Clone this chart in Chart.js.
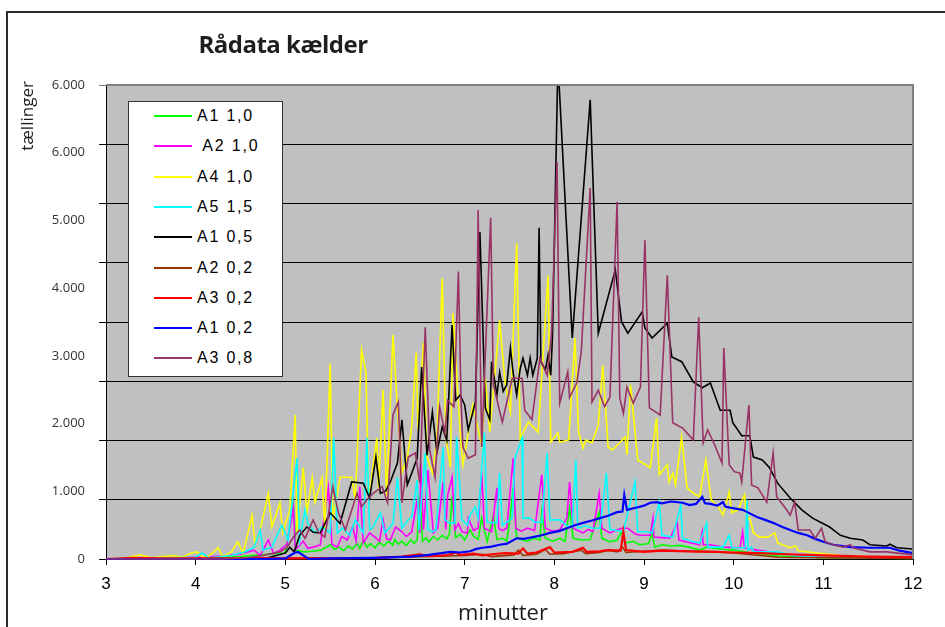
<!DOCTYPE html>
<html>
<head>
<meta charset="utf-8">
<script src="https://cdn.jsdelivr.net/npm/chart.js@4"></script>
<style>
  html, body { margin: 0; padding: 0; background: #fff; }
  #wrap { position: relative; width: 945px; height: 627px; overflow: hidden; }
  #frame { position: absolute; left: 6px; top: 11px; width: 1000px; height: 700px; border: 2px solid #2b2b2b; }
  canvas { position: absolute; left: 0; top: 0; }
  #legend { position: absolute; left: 128px; top: 101px; width: 155px; height: 276px; box-sizing: border-box; background: #fff; border: 1px solid #333; }
  .item { position: absolute; left: 0; height: 20px; width: 150px; }
  .item .line { position: absolute; left: 25px; width: 38px; height: 2px; top: 9px; }
  .item .txt { position: absolute; left: 68px; top: 0; font: 16px "Liberation Sans", Arial, sans-serif; letter-spacing: 1.8px; line-height: 20px; white-space: pre; color: #000; }
</style>
</head>
<body>
<div id="wrap">
  <div id="frame"></div>
  <canvas id="chart" width="945" height="627"></canvas>
  <div id="legend"></div>
</div>
<script>
const chartTitle = "Rådata kælder";
const xTitle = "minutter";
const yTitle = "tællinger";

// y labels as printed next to the axis
const yTickLabels = ["0", "1.000", "2.000", "3.000", "4.000", "5.000", "6.000", "6.000"];

const seriesNames = ["A1 1,0", " A2 1,0", "A4 1,0", "A5 1,5", "A1 0,5", "A2 0,2", "A3 0,2", "A1 0,2", "A3 0,8"];
const seriesColors = ["#00ff00", "#ff00ff", "#ffff00", "#00ffff", "#000000", "#993300", "#ff0000", "#0000ff", "#993366"];
const seriesWidths = [1.6, 1.6, 1.6, 1.6, 1.6, 1.6, 2.2, 2.2, 1.6];

// [minutter, tællinger]
const a1_10 = [[3.0,0],[4.0,10],[4.5,40],[4.8,80],[5.0,100],[5.09,900],[5.12,150],[5.2,120],[5.3,130],[5.4,150],[5.5,240],[5.55,160],[5.6,200],[5.65,140],[5.7,220],[5.75,170],[5.8,260],[5.83,180],[5.87,320],[5.91,200],[5.95,260],[6.0,190],[6.05,280],[6.1,220],[6.15,300],[6.2,230],[6.22,330],[6.26,250],[6.3,300],[6.35,230],[6.4,320],[6.44,260],[6.47,330],[6.5,1100],[6.53,300],[6.57,360],[6.6,290],[6.65,380],[6.7,320],[6.75,400],[6.8,340],[6.83,420],[6.86,1050],[6.9,360],[6.95,420],[7.0,320],[7.06,490],[7.1,380],[7.15,330],[7.19,690],[7.25,290],[7.32,740],[7.36,330],[7.42,350],[7.47,300],[7.51,740],[7.54,1200],[7.58,350],[7.64,320],[7.7,300],[7.77,350],[7.84,320],[7.86,790],[7.9,350],[7.98,300],[8.06,350],[8.12,300],[8.17,860],[8.21,350],[8.3,320],[8.4,330],[8.5,790],[8.53,350],[8.62,290],[8.7,320],[8.75,460],[8.79,270],[8.88,300],[8.95,240],[9.05,260],[9.09,440],[9.12,200],[9.2,240],[9.3,220],[9.4,230],[9.5,200],[9.62,150],[9.7,200],[9.8,180],[9.9,160],[10.0,150],[10.2,100],[10.5,50],[11.0,20],[12.0,10]];
const a2_10 = [[3.0,0],[3.5,10],[4.0,30],[4.3,50],[4.5,80],[4.65,150],[4.72,60],[4.81,320],[4.87,90],[4.94,150],[5.02,250],[5.09,860],[5.11,150],[5.2,300],[5.25,180],[5.31,200],[5.39,240],[5.48,1200],[5.52,250],[5.58,200],[5.63,380],[5.69,320],[5.75,540],[5.79,300],[5.83,1220],[5.87,270],[5.94,440],[6.0,370],[6.05,300],[6.09,660],[6.13,340],[6.17,320],[6.23,540],[6.3,460],[6.35,380],[6.41,460],[6.47,1000],[6.5,440],[6.51,1620],[6.54,490],[6.59,1500],[6.65,440],[6.7,520],[6.76,1300],[6.79,500],[6.81,1080],[6.86,1380],[6.89,490],[6.93,600],[6.97,460],[7.03,440],[7.04,690],[7.1,480],[7.15,520],[7.19,1450],[7.22,520],[7.3,460],[7.36,1200],[7.38,520],[7.42,480],[7.47,520],[7.54,1700],[7.57,520],[7.63,470],[7.7,520],[7.78,480],[7.86,1420],[7.9,520],[7.98,470],[8.06,490],[8.14,690],[8.17,1300],[8.21,520],[8.25,490],[8.32,440],[8.38,500],[8.43,460],[8.5,1110],[8.53,520],[8.62,440],[8.68,480],[8.75,520],[8.82,520],[8.9,420],[8.96,400],[9.07,400],[9.1,690],[9.11,370],[9.2,360],[9.29,350],[9.37,610],[9.39,320],[9.5,280],[9.62,240],[9.65,460],[9.66,240],[9.74,240],[9.88,200],[10.07,190],[10.1,460],[10.12,190],[10.26,150],[10.6,80],[11.0,30],[12.0,20]];
const a4_10 = [[3.0,0],[3.2,10],[3.38,70],[3.5,20],[3.75,60],[3.85,30],[3.95,100],[4.01,120],[4.08,30],[4.15,50],[4.25,190],[4.3,40],[4.4,120],[4.47,290],[4.53,100],[4.63,740],[4.66,270],[4.72,490],[4.81,1110],[4.85,540],[4.94,950],[4.97,440],[5.05,830],[5.11,2430],[5.13,440],[5.2,1540],[5.24,780],[5.3,1370],[5.33,960],[5.41,1370],[5.44,490],[5.5,3300],[5.53,660],[5.61,1380],[5.69,1380],[5.74,1380],[5.78,1000],[5.85,3530],[5.9,3140],[5.93,1000],[6.02,2040],[6.04,1160],[6.09,2850],[6.13,1050],[6.2,3780],[6.25,2570],[6.3,1450],[6.36,1720],[6.41,2230],[6.46,3480],[6.48,2180],[6.54,3650],[6.58,1720],[6.64,1450],[6.69,2010],[6.75,4740],[6.79,2060],[6.84,1550],[6.87,4150],[6.95,2130],[6.98,1590],[7.03,2040],[7.09,2600],[7.19,1920],[7.23,3050],[7.28,2140],[7.39,4030],[7.45,2990],[7.51,2480],[7.58,5330],[7.62,2040],[7.71,2310],[7.82,2140],[7.93,4790],[7.96,1970],[8.04,2130],[8.06,1970],[8.16,2010],[8.23,3730],[8.27,2140],[8.32,1870],[8.35,2010],[8.42,1960],[8.49,2260],[8.54,3270],[8.6,1890],[8.65,1840],[8.79,2060],[8.81,1760],[8.85,2940],[8.93,1670],[9.07,1540],[9.14,2380],[9.17,1420],[9.26,1590],[9.28,1300],[9.32,1450],[9.35,1250],[9.42,2060],[9.48,1200],[9.55,1110],[9.62,1050],[9.69,1670],[9.75,1000],[9.83,880],[9.88,740],[9.95,1130],[9.98,780],[10.05,830],[10.12,1080],[10.15,660],[10.18,690],[10.22,440],[10.29,370],[10.38,370],[10.46,440],[10.49,270],[10.63,190],[10.69,220],[10.72,140],[10.93,100],[11.2,60],[11.5,40],[12.0,30]];
const a5_15 = [[3.0,0],[3.3,20],[3.5,10],[4.0,30],[4.07,100],[4.15,20],[4.29,40],[4.4,60],[4.55,120],[4.65,200],[4.72,490],[4.75,150],[4.85,200],[4.96,570],[5.03,320],[5.13,1700],[5.16,320],[5.22,830],[5.25,610],[5.33,440],[5.41,540],[5.5,440],[5.54,2040],[5.58,440],[5.64,520],[5.72,400],[5.78,660],[5.87,440],[5.91,2040],[5.94,500],[5.97,520],[6.06,780],[6.11,440],[6.2,600],[6.25,1380],[6.3,520],[6.37,660],[6.41,710],[6.47,1330],[6.49,490],[6.56,1790],[6.59,500],[6.64,460],[6.68,490],[6.76,1890],[6.78,660],[6.83,610],[6.89,610],[6.91,2060],[6.97,660],[7.03,570],[7.06,740],[7.12,880],[7.15,690],[7.22,2140],[7.25,620],[7.36,610],[7.39,1450],[7.42,570],[7.53,690],[7.56,1700],[7.64,2040],[7.65,690],[7.73,690],[7.78,620],[7.86,620],[7.92,1790],[7.95,660],[8.06,660],[8.14,560],[8.2,540],[8.24,1670],[8.26,520],[8.34,560],[8.43,520],[8.51,520],[8.58,1450],[8.62,500],[8.77,460],[8.9,1300],[8.93,460],[9.03,460],[9.09,440],[9.17,960],[9.2,400],[9.32,370],[9.41,910],[9.43,350],[9.55,290],[9.62,270],[9.7,610],[9.71,200],[9.88,200],[9.95,400],[9.98,190],[10.13,190],[10.15,1000],[10.16,150],[10.2,200],[10.22,120],[10.48,120],[10.7,50],[11.0,30],[12.0,20]];
const a1_05 = [[3.0,0],[4.5,0],[4.8,20],[4.9,60],[5.0,100],[5.05,200],[5.1,120],[5.16,400],[5.24,540],[5.31,450],[5.39,440],[5.5,780],[5.61,600],[5.74,1300],[5.87,1280],[5.94,1030],[6.01,1720],[6.06,1110],[6.12,1150],[6.17,1300],[6.25,1620],[6.3,2350],[6.36,1250],[6.41,1450],[6.47,1700],[6.52,3240],[6.58,1750],[6.64,2480],[6.69,1800],[6.75,2230],[6.8,2000],[6.86,3950],[6.9,2680],[6.95,2770],[7.0,2600],[7.04,2180],[7.12,2650],[7.17,5520],[7.23,2550],[7.28,2350],[7.3,3330],[7.36,2770],[7.39,3150],[7.43,2830],[7.47,2940],[7.51,3560],[7.54,3150],[7.58,2770],[7.62,3220],[7.65,3390],[7.7,3100],[7.73,3390],[7.76,3100],[7.81,3390],[7.83,5590],[7.85,3330],[7.9,3190],[7.93,3440],[7.96,3100],[7.98,3780],[8.04,8400],[8.2,3730],[8.4,7750],[8.49,3810],[8.68,4880],[8.75,4000],[8.82,3810],[8.98,4170],[9.01,3900],[9.09,3730],[9.26,3980],[9.31,3410],[9.42,3330],[9.55,2990],[9.65,2890],[9.74,2970],[9.85,2510],[9.96,2510],[9.99,2300],[10.09,2080],[10.18,2080],[10.22,1720],[10.32,1670],[10.4,1540],[10.49,1280],[10.63,1030],[10.76,830],[10.88,690],[11.07,540],[11.19,400],[11.3,350],[11.44,320],[11.52,240],[11.71,220],[11.74,250],[11.82,190],[12.0,170]];
const a2_02 = [[3.0,0],[5.0,10],[6.0,20],[6.5,40],[6.8,50],[7.0,60],[7.2,80],[7.3,40],[7.55,70],[7.6,150],[7.65,60],[7.8,80],[7.9,160],[7.95,80],[8.1,90],[8.3,150],[8.35,90],[8.5,110],[8.6,150],[8.7,120],[8.76,200],[8.8,110],[9.0,130],[9.2,150],[9.5,130],[9.8,120],[10.0,100],[10.3,60],[10.5,30],[11.0,20],[12.0,10]];
const a3_02 = [[3.0,0],[3.3,20],[3.6,10],[4.0,10],[5.0,10],[6.0,20],[6.3,40],[6.5,80],[6.6,50],[6.8,60],[6.9,110],[6.95,70],[7.1,90],[7.2,60],[7.3,80],[7.45,100],[7.6,90],[7.65,180],[7.7,90],[7.8,110],[7.95,200],[8.0,110],[8.2,120],[8.32,190],[8.36,120],[8.5,130],[8.6,150],[8.74,140],[8.77,460],[8.8,150],[9.0,120],[9.2,140],[9.5,130],[9.8,120],[10.0,110],[10.3,100],[10.6,80],[11.0,60],[11.5,40],[12.0,30]];
const a1_02 = [[3.0,0],[4.8,0],[5.0,10],[5.1,100],[5.14,120],[5.2,60],[5.26,0],[5.5,10],[6.0,20],[6.4,40],[6.6,70],[6.84,120],[6.95,110],[7.06,130],[7.13,170],[7.2,190],[7.3,210],[7.39,240],[7.47,260],[7.58,350],[7.66,340],[7.76,370],[7.86,400],[7.95,440],[8.05,470],[8.14,520],[8.23,570],[8.32,610],[8.42,650],[8.51,690],[8.6,730],[8.7,790],[8.76,800],[8.78,1080],[8.81,830],[8.92,870],[9.0,900],[9.07,950],[9.14,960],[9.2,940],[9.3,970],[9.43,950],[9.51,910],[9.58,930],[9.65,1050],[9.68,940],[9.74,930],[9.82,900],[9.88,960],[9.91,880],[9.99,860],[10.1,830],[10.18,770],[10.26,710],[10.35,660],[10.44,610],[10.53,550],[10.63,490],[10.72,440],[10.82,400],[10.91,340],[11.0,290],[11.11,240],[11.3,200],[11.52,190],[11.74,190],[11.85,140],[12.0,100]];
const a3_08 = [[3.0,0],[4.3,0],[4.57,20],[4.75,60],[4.94,120],[5.02,200],[5.09,370],[5.16,490],[5.22,350],[5.31,660],[5.37,450],[5.44,370],[5.53,1220],[5.59,790],[5.67,490],[5.8,1110],[5.85,880],[5.91,1000],[5.98,1110],[6.08,1220],[6.14,950],[6.2,2430],[6.26,2650],[6.3,950],[6.37,1720],[6.45,1790],[6.5,1280],[6.56,3910],[6.61,1840],[6.67,1380],[6.72,2570],[6.78,2130],[6.81,2680],[6.88,2570],[6.93,4850],[6.96,2680],[6.98,1890],[7.04,1700],[7.12,1760],[7.15,5890],[7.19,1890],[7.29,5760],[7.32,2940],[7.42,2310],[7.53,3050],[7.64,3050],[7.67,2510],[7.75,2350],[7.84,3390],[7.92,3100],[7.97,3830],[8.03,6700],[8.06,2630],[8.15,3160],[8.17,2730],[8.25,2970],[8.3,3490],[8.4,6260],[8.42,2650],[8.49,2850],[8.56,2570],[8.62,2730],[8.7,6030],[8.73,2720],[8.77,2460],[8.81,2900],[8.88,2630],[8.96,2900],[9.01,5380],[9.06,2550],[9.18,2430],[9.26,4790],[9.32,2300],[9.43,2210],[9.55,2010],[9.61,4080],[9.66,1960],[9.71,2180],[9.79,1920],[9.87,1620],[9.89,3560],[9.95,1590],[10.01,1470],[10.07,1450],[10.09,1300],[10.17,2600],[10.2,1250],[10.27,1200],[10.37,960],[10.44,1790],[10.48,1050],[10.59,830],[10.63,740],[10.68,960],[10.72,490],[10.85,490],[10.91,350],[10.98,520],[11.02,290],[11.11,240],[11.22,200],[11.3,240],[11.33,190],[11.52,120],[11.71,120],[12.0,70]];

const seriesData = [a1_10, a2_10, a4_10, a5_15, a1_05, a2_02, a3_02, a1_02, a3_08];

const plotDecor = {
  id: "plotDecor",
  beforeDraw(chart) {
    const { ctx, chartArea: a } = chart;
    ctx.save();
    ctx.fillStyle = "#c0c0c0";
    ctx.fillRect(a.left, a.top, a.right - a.left, a.bottom - a.top);
    ctx.restore();
  },
  afterDraw(chart) {
    const { ctx, chartArea: a } = chart;
    ctx.save();
    // grey frame on top and right of the plot
    ctx.strokeStyle = "#808080";
    ctx.lineWidth = 2;
    ctx.beginPath();
    ctx.moveTo(a.left, a.top);
    ctx.lineTo(a.right, a.top);
    ctx.lineTo(a.right, a.bottom);
    ctx.stroke();

    ctx.fillStyle = "#1e1e1e";
    ctx.textAlign = "center";
    ctx.textBaseline = "alphabetic";
    ctx.font = 'bold 24px "Open Sans"';
    if ("letterSpacing" in ctx) ctx.letterSpacing = "-0.5px";
    ctx.fillText(chartTitle, 283, 53);
    if ("letterSpacing" in ctx) ctx.letterSpacing = "0px";

    ctx.font = '22px "Open Sans"';
    ctx.fillText(xTitle, 503, 620);

    ctx.translate(33, 116);
    ctx.rotate(-Math.PI / 2);
    ctx.font = '17px "Open Sans"';
    ctx.fillText(yTitle, 0, 0);
    ctx.restore();
  }
};

const datasets = seriesData.map((pts, i) => ({
  label: seriesNames[i],
  data: pts.map(p => ({ x: p[0], y: p[1] })),
  borderColor: seriesColors[i],
  backgroundColor: seriesColors[i],
  borderWidth: seriesWidths[i],
  pointRadius: 0,
  tension: 0,
  fill: false,
  order: seriesData.length - i,
  yAxisID: "y",
  clip: { left: 4, right: 4, top: 0, bottom: 4 }
}));

new Chart(document.getElementById("chart"), {
  type: "line",
  data: { datasets: datasets },
  options: {
    responsive: false,
    animation: false,
    layout: { padding: { left: 0, top: 85, right: 32, bottom: 0 } },
    plugins: { legend: { display: false }, tooltip: { enabled: false }, title: { display: false } },
    scales: {
      x: {
        type: "linear",
        position: "bottom",
        min: 3,
        max: 12,
        ticks: { stepSize: 1, autoSkip: false, maxRotation: 0, color: "#000", padding: 9,
                 font: { family: '"Liberation Sans", Arial, sans-serif', size: 17 } },
        grid: { drawOnChartArea: false, drawTicks: true, tickLength: 6, color: "#000" },
        border: { color: "#000", width: 1 },
        afterFit: s => { s.height = 68; }
      },
      y: {
        type: "linear",
        position: "left",
        weight: 0,
        min: 0,
        max: 8000,
        ticks: { display: false, stepSize: 1000 },
        grid: {
          color: c => (c.tick && c.tick.value === 8000 ? "#808080" : "#000"),
          lineWidth: 1,
          drawTicks: true,
          tickLength: 7
        },
        border: { color: "#000", width: 1 },
        afterFit: s => { s.width = 7; }
      },
      yl: {
        type: "linear",
        position: "left",
        weight: 1,
        min: 0,
        max: 7,
        ticks: { stepSize: 1, autoSkip: false, padding: 14, color: "#333",
                 font: { family: '"Open Sans", sans-serif', size: 13 },
                 callback: v => yTickLabels[v] },
        grid: { display: false, drawTicks: false },
        border: { display: false },
        afterFit: s => { s.width = 99; }
      }
    }
  },
  plugins: [plotDecor]
});

// legend box
const legend = document.getElementById("legend");
seriesNames.forEach((name, i) => {
  const item = document.createElement("div");
  item.className = "item";
  item.style.top = (4 + i * 30.3) + "px";
  const line = document.createElement("span");
  line.className = "line";
  line.style.background = seriesColors[i];
  const txt = document.createElement("span");
  txt.className = "txt";
  txt.textContent = name;
  item.appendChild(line);
  item.appendChild(txt);
  legend.appendChild(item);
});
</script>
</body>
</html>
